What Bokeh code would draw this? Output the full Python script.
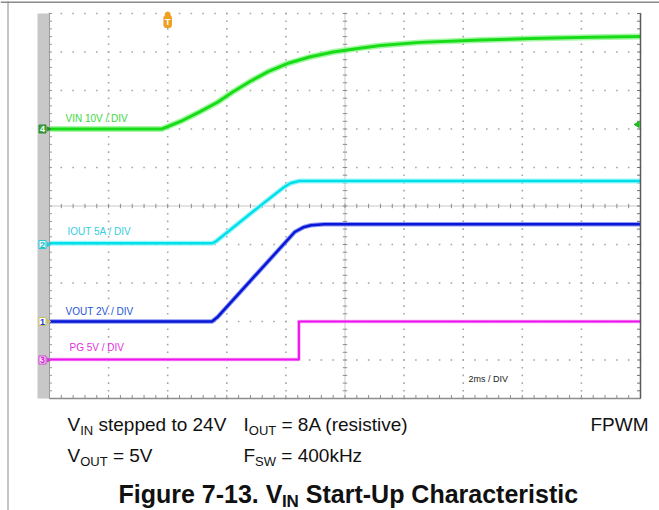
import numpy as np
from bokeh.plotting import figure
from bokeh.models import Label, Range1d
from bokeh.embed import file_html
from bokeh.resources import INLINE

# ---------------- data read from the scope capture ----------------
# time axis: 2 ms / div, trigger (t = 0) two divisions from the left edge
t_vin = [-4.0, -0.2, 0.5, 1.1, 1.7, 2.2, 2.8, 3.4, 4.05, 4.8, 5.6, 6.5, 7.2, 8.55, 10.6, 12.3, 14.3, 16.0]
vin = [0.0, 0.0, 2.2, 4.5, 7.0, 9.6, 12.4, 14.9, 17.0, 18.7, 20.0, 21.0, 21.7, 22.5, 23.1, 23.5, 23.8, 24.0]

t_iout = [-4.0, 1.5, 1.65, 3.14, 3.9, 4.15, 4.45, 16.0]
iout = [0.15, 0.15, 0.45, 5.05, 7.35, 7.95, 8.25, 8.25]

t_vout = [-4.0, 1.5, 1.7, 4.3, 4.6, 4.85, 5.3, 16.0]
vout = [0.0, 0.0, 0.25, 4.65, 4.9, 5.0, 5.05, 5.05]

t_pg = [-4.0, 4.44, 4.44, 16.0]
pg = [0.05, 0.05, 5.0, 5.0]

ch_labels = ["VIN 10V / DIV", "IOUT 5A / DIV", "VOUT 2V / DIV", "PG 5V / DIV"]
ch_scale = [10.0, 5.0, 2.0, 5.0]        # units per division
ch_offset = [2.0, -1.0, -3.0, -4.0]     # ground marker position, divisions
ch_number = ["4", "2", "1", "3"]
timebase = "2ms / DIV"

# ---------------- geometry (picture pixels) ----------------
LEFT, RIGHT, TOP, BOTTOM = 49, 640, 13, 398
T_MIN, T_MAX, Y_MIN, Y_MAX = -4.0, 16.0, -5.0, 5.0
SX = (RIGHT - LEFT) / (T_MAX - T_MIN)
SY = (BOTTOM - TOP) / (Y_MAX - Y_MIN)
OX, OY, W, H = 0, 0, 659, 510


def X(px):
    return T_MIN + (px - LEFT) / SX


def Y(py):
    return Y_MAX - (py - TOP) / SY


p = figure(width=W, height=H, x_range=Range1d(X(OX), X(OX + W)),
           y_range=Range1d(Y(OY + H), Y(OY)), output_backend="svg",
           toolbar_location=None, x_axis_type=None, y_axis_type=None,
           min_border=0)
p.outline_line_color = None
p.grid.visible = False
p.background_fill_color = "white"
p.border_fill_color = "white"

# outer frame lines (top and left)
p.segment(x0=[X(0)], y0=[Y(1.8)], x1=[X(W)], y1=[Y(1.8)], line_color="#8a8a8a", line_width=1.5)
p.segment(x0=[X(7.5)], y0=[Y(1)], x1=[X(7.5)], y1=[Y(H)], line_color="#8a8a8a", line_width=1)

# grey channel bar
p.quad(left=[X(37)], right=[T_MIN], bottom=[Y_MIN], top=[Y_MAX], fill_color="#c8c8c8", line_color=None)

# dotted grid (dots on every minor division of every major line)
gx = [t for t in np.arange(T_MIN + 2, T_MAX, 2.0) if abs(t - 6.0) > 1e-6]
gy = [y for y in np.arange(Y_MIN + 1, Y_MAX + 0.5, 1.0) if abs(y) > 1e-6]
tx = np.arange(T_MIN, T_MAX + 0.01, 0.4)
ty = np.arange(Y_MIN, Y_MAX + 0.01, 0.2)
dx = np.concatenate([np.full(len(ty), g) for g in gx] + [tx for _ in gy])
dy = np.concatenate([ty for _ in gx] + [np.full(len(tx), g) for g in gy])
p.scatter(x=dx, y=dy, marker="square", size=1.6, fill_color="#a6a6a6", line_color=None)

# centre cross with ticks
p.segment(x0=[T_MIN], y0=[0], x1=[T_MAX], y1=[0], line_color="#c8c8c8", line_width=1)
p.segment(x0=[6.0], y0=[Y_MIN], x1=[6.0], y1=[Y_MAX], line_color="#c8c8c8", line_width=1)
p.segment(x0=tx, y0=-2.2 / SY, x1=tx, y1=2.2 / SY, line_color="#8c8c8c", line_width=1)
p.segment(x0=6.0 - 2.2 / SX, y0=ty, x1=6.0 + 2.2 / SX, y1=ty, line_color="#8c8c8c", line_width=1)
# border ticks
p.segment(x0=tx, y0=Y_MIN, x1=tx, y1=Y_MIN + 3.5 / SY, line_color="#8c8c8c", line_width=1)
p.segment(x0=T_MAX - 3.5 / SX, y0=ty, x1=T_MAX, y1=ty, line_color="#707070", line_width=1)
p.segment(x0=T_MIN, y0=ty, x1=T_MIN + 2.5 / SX, y1=ty, line_color="#9a9a9a", line_width=1)

# traces (noise band + core)
trace_cols = [("#8ef58e", "#19dc19", 6.0, 3.0),
              ("#8af4f8", "#00dfec", 5.0, 2.5),
              ("#7080f0", "#0818d6", 4.5, 2.5),
              ("#f59af5", "#ee14ee", 3.5, 2.0)]
series = [(t_vin, vin), (t_iout, iout), (t_vout, vout), (t_pg, pg)]
for (tt, vv), sc, off, (halo, core, hw, cw) in zip(series, ch_scale, ch_offset, trace_cols):
    yy = [off + v / sc for v in vv]
    p.line(tt, yy, line_color=halo, line_width=hw, line_alpha=0.8, line_join="round")
    p.line(tt, yy, line_color=core, line_width=cw, line_join="round")

# borders of the graticule
p.segment(x0=[T_MIN], y0=[Y_MIN], x1=[T_MAX], y1=[Y_MIN], line_color="#8c8c8c", line_width=1.5)
p.segment(x0=[T_MAX], y0=[Y_MIN], x1=[T_MAX], y1=[Y_MAX], line_color="#5a5a5a", line_width=1.5)
p.segment(x0=[T_MIN], y0=[Y_MIN], x1=[T_MIN], y1=[Y_MAX], line_color="#9a9a9a", line_width=1)

FONT = "Liberation Sans"


def lab(text, px, py, size, color, bold=False, align="left", baseline="middle", **kw):
    p.add_layout(Label(x=X(px), y=Y(py), text=text, text_font=FONT,
                       text_font_size=f"{size}px", text_color=color,
                       text_font_style="bold" if bold else "normal",
                       text_align=align, text_baseline=baseline, **kw))


# channel captions
cap_cols = ["#3ad83a", "#36cde0", "#2456d6", "#e030e0"]
cap_pos = [(65, 118), (67, 231), (65, 311), (69, 347)]
for txt, (px, py), c in zip(ch_labels, cap_pos, cap_cols):
    lab(txt, px, py, 10, c)
lab(timebase, 468, 378, 9, "#222222")

# ground markers on the grey bar
mk_style = [("#3aa63a", "#2a8a2a", "#ffffff"),
            ("#e6fafc", "#2ac8d8", "#1fb8c8"),
            ("#ffffff", "#c8c060", "#1a3acc"),
            ("#fbeafb", "#d040d0", "#d020d0")]
for num, off, (bg, bd, fc) in zip(ch_number, ch_offset, mk_style):
    p.add_layout(Label(x=X(42), y=off, text=num, text_font=FONT, text_font_size="9px",
                       text_color=fc, text_font_style="bold", text_align="center",
                       text_baseline="middle", background_fill_color=bg,
                       border_line_color=bd, padding=1))
p.scatter(x=[X(48)] * 4, y=ch_offset, marker="triangle", angle=-np.pi / 2, size=4,
          color=[s[1] for s in mk_style])

# trigger markers
p.scatter(x=[0.0], y=[Y(14)], marker="circle", size=5, color="#f0a020")
p.add_layout(Label(x=0.0, y=Y(21), text="T", text_font=FONT, text_font_size="9px",
                   text_color="white", text_font_style="bold", text_align="center",
                   text_baseline="middle", background_fill_color="#f0a020",
                   border_line_color="#f0a020", padding=1, border_radius=2))
p.scatter(x=[X(637)], y=[Y(124)], marker="triangle", angle=np.pi / 2, size=6, color="#22bb22")

# text under the screenshot
FS, SFS = 19, 13
BLACK = "#111111"
R1, R2 = 424, 455
lab("V", 67, R1, FS, BLACK)
lab("IN", 79.7, R1 + 6, SFS, BLACK)
lab("stepped to 24V", 98, R1, FS, BLACK)
lab("I", 243, R1, FS, BLACK)
lab("OUT", 248.3, R1 + 6, SFS, BLACK)
lab("= 8A (resistive)", 281, R1, FS, BLACK)
lab("FPWM", 590, R1, FS, BLACK)
lab("V", 67, R2, FS, BLACK)
lab("OUT", 79.7, R2 + 6, SFS, BLACK)
lab("= 5V", 112.4, R2, FS, BLACK)
lab("F", 243, R2, FS, BLACK)
lab("SW", 254.6, R2 + 6, SFS, BLACK)
lab("= 400kHz", 280.8, R2, FS, BLACK)

RT = 493
lab("Figure 7-13. V", 118, RT, 25, BLACK, bold=True)
lab("IN", 281.4, RT + 8, 17, BLACK, bold=True)
lab("Start-Up Characteristic", 305.3, RT, 25, BLACK, bold=True)

open("out.html", "w").write(file_html(p, INLINE))
